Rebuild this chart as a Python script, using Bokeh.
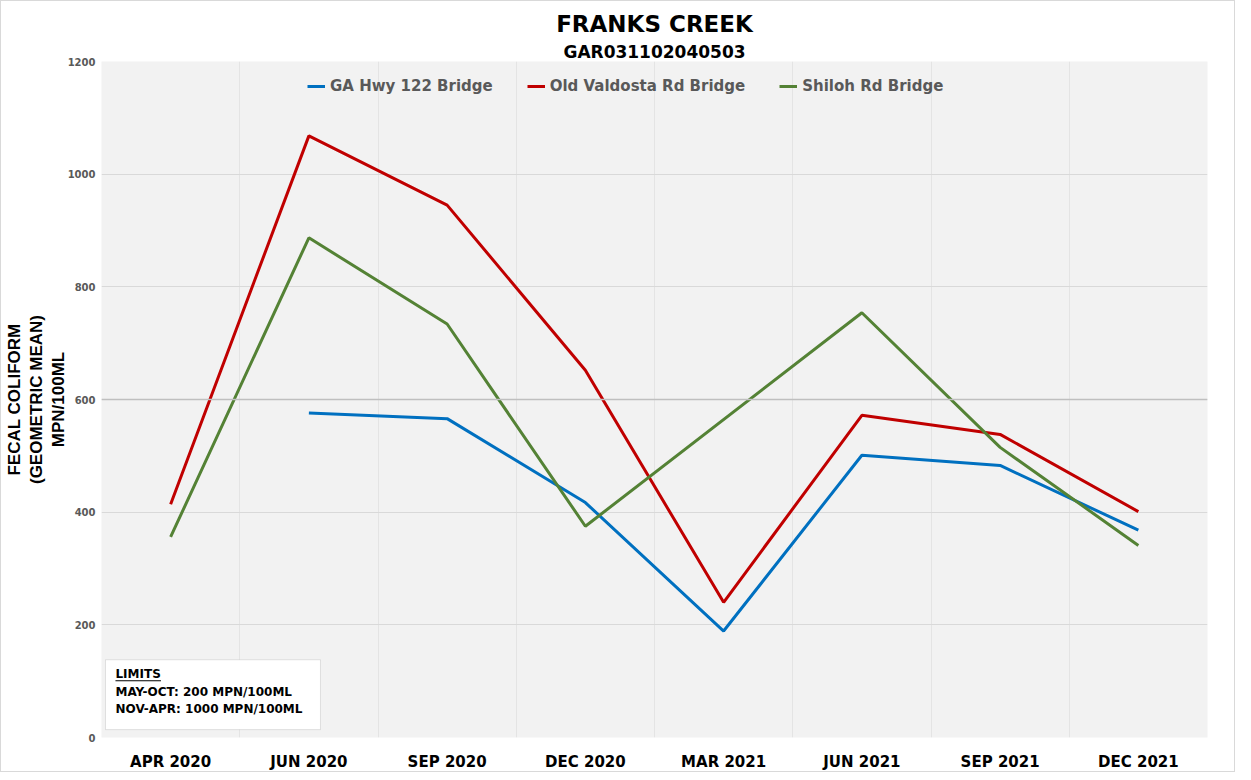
from bokeh.plotting import figure
from bokeh.models import (FixedTicker, Label, Legend, LegendItem, Span,
                          BoxAnnotation, Range1d, Title)
from bokeh.embed import file_html
from bokeh.resources import INLINE

# ---- data ----
categories = ["APR 2020", "JUN 2020", "SEP 2020", "DEC 2020",
              "MAR 2021", "JUN 2021", "SEP 2021", "DEC 2021"]
ga_hwy_122 = [None, 576, 566, 417, 189, 501, 483, 368]
old_valdosta = [414, 1068, 945, 652, 240, 572, 538, 401]
shiloh = [356, 887, 734, 375, None, 754, 515, 341]
series_names = ["GA Hwy 122 Bridge", "Old Valdosta Rd Bridge", "Shiloh Rd Bridge"]
y_ticks = [0, 200, 400, 600, 800, 1000, 1200]
title_text = "FRANKS CREEK"
subtitle_text = "GAR031102040503"
y_label_text = "FECAL COLIFORM\n(GEOMETRIC MEAN)\nMPN/100ML"
limits_lines = ["LIMITS", "MAY-OCT: 200 MPN/100ML", "NOV-APR: 1000 MPN/100ML"]

colors = ["#0070C0", "#C00000", "#548235"]
FONT = "DejaVu Sans"

n = len(categories)
centers = [i + 0.5 for i in range(n)]

p = figure(width=1235, height=772, output_backend="svg", toolbar_location=None,
           x_range=Range1d(0, n), y_range=Range1d(0, 1200),
           title=title_text,
           min_border_left=100, min_border_right=29, min_border_top=60,
           min_border_bottom=34)
p.styles = {"border": "1px solid #d9d9d9"}
p.background_fill_color = "#F2F2F2"
p.border_fill_color = "white"
p.outline_line_color = None

# titles (p.title is outermost, subtitle added closer to the plot area)
p.title.align = "center"
p.title.text_font = FONT
p.title.text_font_style = "bold"
p.title.text_font_size = "23px"
p.title.text_color = "black"
p.title.standoff = 5
p.add_layout(Title(text=subtitle_text, align="center", text_font=FONT,
                   text_font_style="bold", text_font_size="17px",
                   text_color="black", standoff=0), "above")

# axes
p.xaxis.ticker = FixedTicker(ticks=centers)
p.xaxis.major_label_overrides = {c: lab for c, lab in zip(centers, categories)}
p.xaxis.major_label_text_font = FONT
p.xaxis.major_label_text_font_style = "bold"
p.xaxis.major_label_text_font_size = "15px"
p.xaxis.major_label_text_color = "black"
p.xaxis.major_label_standoff = 15
p.yaxis.ticker = FixedTicker(ticks=y_ticks)
p.yaxis.major_label_text_font = FONT
p.yaxis.major_label_text_font_style = "bold"
p.yaxis.major_label_text_font_size = "10px"
p.yaxis.major_label_text_color = "#595959"
p.yaxis.major_label_standoff = 6
p.yaxis.axis_label = y_label_text
p.yaxis.axis_label_text_font = "Liberation Sans"
p.yaxis.axis_label_text_font_style = "bold"
p.yaxis.axis_label_text_font_size = "17px"
p.yaxis.axis_label_text_color = "black"
p.yaxis.axis_label_text_line_height = 1.15
p.yaxis.axis_label_standoff = -3
try:
    p.yaxis.axis_label_align = "center"
except Exception:
    pass
for ax in (p.xaxis[0], p.yaxis[0]):
    ax.axis_line_color = None
    ax.major_tick_line_color = None
    ax.minor_tick_line_color = None
    ax.major_tick_out = 0
    ax.major_tick_in = 0
    ax.minor_tick_out = 0
    ax.minor_tick_in = 0

# grids
p.ygrid.ticker = FixedTicker(ticks=y_ticks)
p.ygrid.grid_line_color = "#D9D9D9"
p.ygrid.grid_line_width = 1
p.xgrid.ticker = FixedTicker(ticks=list(range(1, n)))
p.xgrid.grid_line_color = "#E4E4E4"
p.xgrid.grid_line_width = 1
p.add_layout(Span(location=600, dimension="width", line_color="#BFBFBF", line_width=1.5))

# lines
renderers = []
for vals, col in zip([ga_hwy_122, old_valdosta, shiloh], colors):
    xs = [c for c, v in zip(centers, vals) if v is not None]
    ys = [v for v in vals if v is not None]
    r = p.line(xs, ys, line_color=col, line_width=3)
    renderers.append(r)

legend = Legend(items=[LegendItem(label=nm, renderers=[r]) for nm, r in zip(series_names, renderers)],
                orientation="horizontal", location=(206, 642),
                label_text_font=FONT, label_text_font_style="bold",
                label_text_font_size="15px", label_text_color="#595959",
                glyph_width=18, glyph_height=16, label_standoff=5, spacing=34,
                padding=0, margin=0, background_fill_alpha=0, border_line_color=None)
p.add_layout(legend)

# limits box
p.add_layout(BoxAnnotation(left=0.029, right=1.584, bottom=14, top=138,
                           fill_color="white", fill_alpha=1,
                           line_color="#A6A6A6", line_width=1))
for txt, yy in zip(limits_lines, [113, 80, 50]):
    p.add_layout(Label(x=0.101, y=yy, text=txt, text_align="left",
                       text_baseline="middle", text_font=FONT,
                       text_font_style="bold", text_font_size="12px",
                       text_color="black"))
p.add_layout(BoxAnnotation(left=0.101, right=0.43, bottom=100, top=101.8,
                           fill_color="black", fill_alpha=1, line_color=None))

open("out.html", "w").write(file_html(p, INLINE))
